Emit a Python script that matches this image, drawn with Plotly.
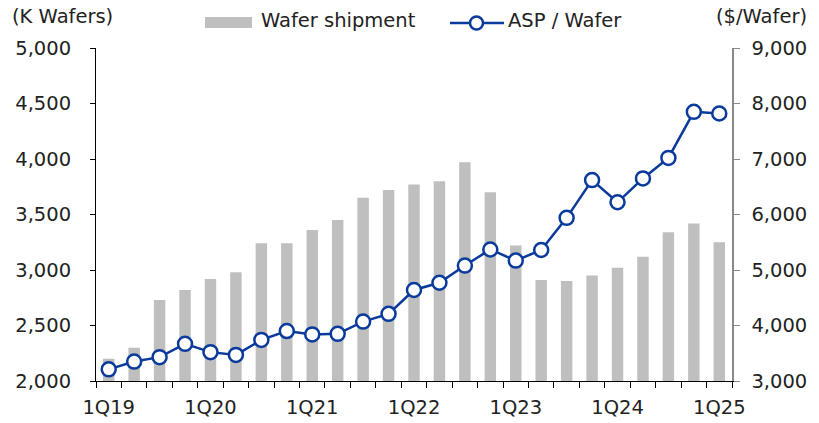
import plotly.graph_objects as go

quarters = ["1Q19","2Q19","3Q19","4Q19","1Q20","2Q20","3Q20","4Q20",
            "1Q21","2Q21","3Q21","4Q21","1Q22","2Q22","3Q22","4Q22",
            "1Q23","2Q23","3Q23","4Q23","1Q24","2Q24","3Q24","4Q24","1Q25"]
wafer_shipment = [2200, 2300, 2730, 2820, 2920, 2980, 3240, 3240,
                  3360, 3450, 3650, 3720, 3770, 3800, 3970, 3700,
                  3220, 2910, 2900, 2950, 3020, 3120, 3340, 3420, 3250]
asp_per_wafer = [3210, 3350, 3430, 3670, 3520, 3470, 3740, 3900,
                 3840, 3850, 4070, 4210, 4640, 4770, 5080, 5370,
                 5170, 5360, 5940, 6620, 6220, 6650, 7020, 7850, 7820]
label_quarters = ["1Q19","1Q20","1Q21","1Q22","1Q23","1Q24","1Q25"]
left_ticks = [2000, 2500, 3000, 3500, 4000, 4500, 5000]
right_ticks = [3000, 4000, 5000, 6000, 7000, 8000, 9000]

BAR = "#BFBFBF"
BLUE = "#0A3A9C"
FONT = "DejaVu Sans"
FS = 19.5

idx = list(range(len(quarters)))
label_idx = [quarters.index(q) for q in label_quarters]

fig = go.Figure()
fig.add_trace(go.Bar(x=idx, y=wafer_shipment, name="Wafer shipment",
                     marker=dict(color=BAR, line=dict(width=0)), width=0.45,
                     showlegend=False, hoverinfo="skip"))
fig.add_trace(go.Scatter(x=idx, y=asp_per_wafer, name="ASP / Wafer", yaxis="y2",
                         mode="lines+markers",
                         line=dict(color=BLUE, width=2.5),
                         marker=dict(symbol="circle", size=14, color="white",
                                     line=dict(color=BLUE, width=2.5)),
                         showlegend=False, hoverinfo="skip"))

L, R, T, B = 96, 87, 48, 42
W, H = 819, 423
pw, ph = W - L - R, H - T - B
def px(x): return (x - L) / pw
def py(y): return (H - B - y) / ph

fig.update_layout(
    width=W, height=H,
    margin=dict(l=L, r=R, t=T, b=B, autoexpand=False),
    paper_bgcolor="white", plot_bgcolor="white",
    font=dict(family=FONT, size=FS, color="#222222"),
    bargap=0.5,
    xaxis=dict(range=[-0.5, len(quarters) - 0.5], automargin=False,
               tickvals=label_idx, ticktext=label_quarters,
               ticks="", showgrid=False, zeroline=False,
               showline=True, linecolor="black", linewidth=1,
               tickfont=dict(size=FS), ticklabelstandoff=9,
               minor=dict(tickvals=[i - 0.5 for i in range(len(quarters) + 1)],
                          ticks="outside", ticklen=6, tickcolor="black",
                          tickwidth=1, showgrid=False)),
    yaxis=dict(range=[2000, 5000], tickvals=left_ticks, automargin=False,
               tickformat=",", showgrid=False, zeroline=False,
               showline=True, linecolor="black", linewidth=1,
               ticks="outside", ticklen=5, tickcolor="black",
               tickfont=dict(size=FS), ticklabelstandoff=15),
    yaxis2=dict(range=[3000, 9000], tickvals=right_ticks, automargin=False,
                tickformat=",", overlaying="y", side="right",
                showgrid=False, zeroline=False,
                showline=True, linecolor="#888888", linewidth=1.5,
                ticks="outside", ticklen=6, tickcolor="#888888",
                tickfont=dict(size=FS), ticklabelstandoff=8),
)

# axis unit labels
fig.add_annotation(text="(K Wafers)", xref="paper", yref="paper",
                   x=px(10), y=py(17), xanchor="left", yanchor="middle",
                   showarrow=False, font=dict(size=FS))
fig.add_annotation(text="($/Wafer)", xref="paper", yref="paper",
                   x=px(809), y=py(17), xanchor="right", yanchor="middle",
                   showarrow=False, font=dict(size=FS))

# custom legend
fig.add_shape(type="rect", xref="paper", yref="paper",
              x0=px(205), x1=px(252), y0=py(28), y1=py(17),
              fillcolor=BAR, line=dict(width=0))
fig.add_annotation(text="Wafer shipment", xref="paper", yref="paper",
                   x=px(259), y=py(21), xanchor="left", yanchor="middle",
                   showarrow=False, font=dict(size=FS))
fig.add_shape(type="line", xref="paper", yref="paper",
              x0=px(450), x1=px(504), y0=py(23), y1=py(23),
              line=dict(color=BLUE, width=2.5))
fig.add_shape(type="circle", xref="paper", yref="paper",
              x0=px(470), x1=px(483), y0=py(29.5), y1=py(16.5),
              fillcolor="white", line=dict(color=BLUE, width=2.5))
fig.add_annotation(text="ASP / Wafer", xref="paper", yref="paper",
                   x=px(506), y=py(21), xanchor="left", yanchor="middle",
                   showarrow=False, font=dict(size=FS))

fig.write_html("out.html", config={"displayModeBar": False, "staticPlot": True},
               post_script="document.body.style.margin='0';document.body.style.overflow='hidden';")
